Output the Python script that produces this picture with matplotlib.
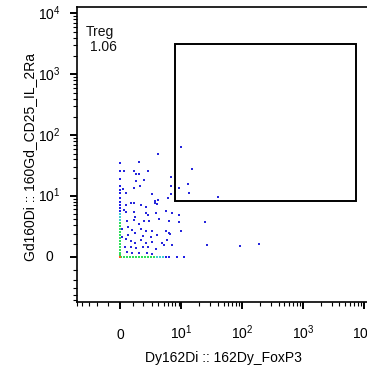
import numpy as np
import matplotlib
matplotlib.use('Agg')
import matplotlib.pyplot as plt
from matplotlib.patches import Rectangle

# --- data (in channel intensity units) ---
# events off both axes: FoxP3 (x), CD25 (y)
foxp3 = [10, 4.0, 1.5, 0.28, 1.06, 2.57, 1.27, 1.57, 6.8, 15, 1.27, 2.1, 13, 1.6,
         6.8, 9.3, 0.2, 1.1, 0.4, 3.0, 6.8, 13.4, 40, 3.9, 5.9, 3.4,
         0.46, 0.8, 1.1, 1.7, 2.25, 3.5, 3.8, 5.4, 6.9, 0.3, 0.4, 1.1, 2.25, 2.55,
         1.2, 1.1, 1.5, 2.1, 2.7, 4.1, 6.3, 9.0, 0.55, 0.6, 0.15, 0.9, 1.7, 1.22,
         2.25, 3.1, 5.4, 6.3, 3.84, 2.85, 1.95, 0.62, 0.15, 0.46, 0.8, 1.22, 1.7,
         2.25, 3.1, 4.7, 5.8, 0.36, 0.8, 1.3, 1.95, 2.55, 3.7, 5.05, 0.54, 0.94,
         1.55, 2.45, 3.1, 6.85, 9.0, 25, 10, 27, 93, 190, 3.6, 6.5]
cd25 = [63, 50, 36, 26, 26, 26, 23, 23, 21, 28, 18, 18.5, 16, 14.5,
        14.5, 13.4, 13, 13.4, 11, 10.8, 10.8, 11, 9.6, 8.4, 9.1, 8.1,
        7.0, 7.5, 7.7, 7.0, 6.4, 7.7, 7.3, 5.6, 5.2, 5.8, 5.3, 5.4, 5.05, 4.7,
        4.4, 3.84, 3.2, 3.6, 3.7, 4.0, 3.7, 3.5, 3.7, 2.85, 2.5, 2.45, 2.5, 2.13,
        2.25, 2.35, 2.35, 2.07, 1.85, 1.7, 1.75, 1.9, 1.7, 1.45, 1.32, 1.13, 1.39,
        1.13, 1.22, 1.1, 1.4, 0.8, 0.8, 0.67, 0.75, 0.8, 0.6, 0.94, 0.4, 0.33,
        0.29, 0.33, 0.23, 0.94, 4.8, 3.5, 2.35, 0.96, 0.86, 1.05, 5.05, 1.95]

# events piled on FoxP3 = 0 (their CD25 values)
cd25_at_zero = [35.5, 25.7, 19.4, 14.7, 12.6, 11.2, 9.4, 7.85, 7.0, 6.25, 5.55, 4.9,
                4.35, 3.85, 3.35, 2.93, 2.55, 2.2, 1.88, 1.58, 1.28, 1.02, 0.78,
                0.54, 0.31, 0.12]
# events piled on CD25 = 0 (their FoxP3 values)
foxp3_at_zero = [0.07, 0.31, 0.54, 0.78, 1.02, 1.28, 1.58, 1.88, 2.2, 2.55, 2.93,
                 3.35, 3.85, 4.35, 4.9, 5.55, 6.25, 8.5, 11]

gate_x = [7.7, 7400]
gate_y = [8.3, 3100]
gate_name = 'Treg'
gate_pct = 1.06

major_ticks = [0, 10, 100, 1000, 10000]
major_labels = ['0', '$10^{1}$', '$10^{2}$', '$10^{3}$', '$10^{4}$']
minor_ticks = ([-k for k in range(1, 6)] + list(range(1, 10))
               + [m * 10 ** e for e in (1, 2, 3) for m in range(2, 10)])

# arcsinh display scale (cofactor picked so 0..10 spans one decade)
COF = 2.02


def fwd(v):
    return np.arcsinh(np.asarray(v, dtype=float) / COF) / np.log(10)


def inv(u):
    return COF * np.sinh(np.asarray(u, dtype=float) * np.log(10))


plt.rcParams['font.family'] = ['Liberation Sans', 'DejaVu Sans']
plt.rcParams['mathtext.default'] = 'regular'
plt.rcParams['font.size'] = 10

fig = plt.figure(figsize=(3.67, 3.68), dpi=100)
ax = fig.add_axes([76.5 / 367, 66 / 368, 293.5 / 367, 295 / 368])
ax.set_xscale('function', functions=(fwd, inv))
ax.set_yscale('function', functions=(fwd, inv))


# pseudocolor: dense pile-ups near origin green, then cyan, sparse blue
def pile_colors(vals):
    u = fwd(vals)
    return ['#2fe05a' if x < 0.6 else ('#3fd0d0' if x < 0.72 else '#1e1ee6') for x in u]


ax.scatter(foxp3, cd25, s=2.2, marker='s', c='#2626dc', linewidths=0)
ax.scatter(np.zeros(len(cd25_at_zero)), cd25_at_zero, s=2.2, marker='s',
           c=pile_colors(cd25_at_zero), linewidths=0)
ax.scatter(foxp3_at_zero, np.zeros(len(foxp3_at_zero)), s=2.2, marker='s',
           c=pile_colors(foxp3_at_zero), linewidths=0)
ax.scatter([0], [0], s=3, marker='s', c='#ff5a1e', linewidths=0)

# gate
ax.add_patch(Rectangle((gate_x[0], gate_y[0]), gate_x[1] - gate_x[0], gate_y[1] - gate_y[0],
                       fill=False, edgecolor='black', linewidth=1.4))
ax.text(0.032, 0.902, gate_name, transform=ax.transAxes, fontsize=10, color='#111111')
ax.text(0.046, 0.851, f'{gate_pct:.2f}', transform=ax.transAxes, fontsize=10, color='#111111')

for axis in (ax.xaxis, ax.yaxis):
    axis.set_ticks(major_ticks)
    axis.set_ticklabels(major_labels)
    axis.set_ticks(minor_ticks, minor=True)

# limits after ticks, so set_ticks does not widen the view
ax.set_xlim(inv(-0.72), inv(4.1))
ax.set_ylim(inv(-0.74), inv(4.1))

ax.tick_params(which='major', direction='out', length=5, width=1.4, labelsize=10)
ax.tick_params(which='minor', direction='out', length=3, width=0.8)
ax.tick_params(axis='x', which='major', pad=21.6)
ax.tick_params(axis='y', which='major', pad=14.5)
for lab in ax.get_xticklabels():
    lab.set_va('baseline')
for lab in ax.get_yticklabels():
    lab.set_ha('center')
    lab.set_va('center')

for sp in ax.spines.values():
    sp.set_linewidth(1.2)

ax.set_xlabel('Dy162Di :: 162Dy_FoxP3', fontsize=10)
ax.set_ylabel('Gd160Di :: 160Gd_CD25_IL_2Ra', fontsize=10)
ax.xaxis.set_label_coords(0.5, -0.166)
ax.yaxis.set_label_coords(-0.135, 0.493)

fig.savefig('out.png', dpi=100)
